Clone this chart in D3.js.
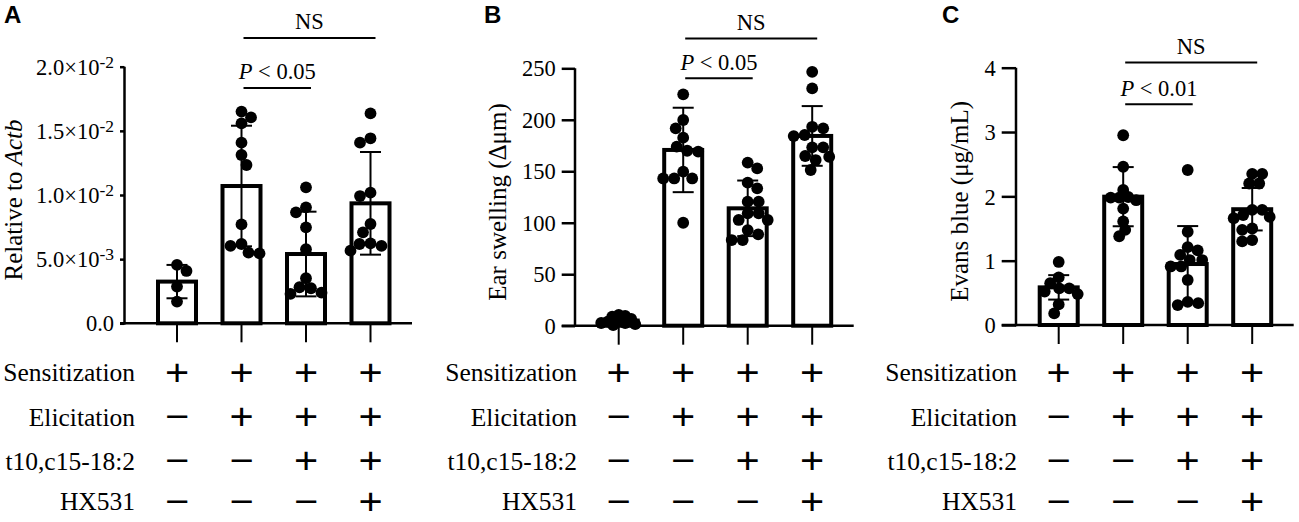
<!DOCTYPE html>
<html>
<head>
<meta charset="utf-8">
<script src="https://cdn.jsdelivr.net/npm/d3@7"></script>
<style>
  body { margin: 0; background: #fff; }
  svg { display: block; }
</style>
</head>
<body>
<script>
// values (mean, SD, individual animals)
const groups = ["g1", "g2", "g3", "g4"];
const rowLabels = ["Sensitization", "Elicitation", "t10,c15-18:2", "HX531"];
const rowSigns = [
  ["+", "+", "+", "+"],
  ["\u2212", "+", "+", "+"],
  ["\u2212", "\u2212", "+", "+"],
  ["\u2212", "\u2212", "\u2212", "+"]
];

// panel A - relative to Actb
const aMeans = [0.00325, 0.0107, 0.0054, 0.00935];
const aSD = [0.0013, 0.0047, 0.0033, 0.004];
const aPoints = [
  [0.00455, 0.00408, 0.00286, 0.00169],
  [0.0165, 0.01605, 0.01558, 0.01408, 0.01312, 0.01234, 0.00771, 0.00618, 0.00603, 0.00551, 0.00545],
  [0.0106, 0.00904, 0.00865, 0.00748, 0.00577, 0.00351, 0.00281, 0.00273, 0.00239, 0.00229],
  [0.01636, 0.01442, 0.01408, 0.01018, 0.00992, 0.00774, 0.00709, 0.00623, 0.00618, 0.00603, 0.00566]
];
const aTicks = [0, 0.005, 0.01, 0.015, 0.02];
const aTickLabels = [["0.0", ""], ["5.0\u00d710", "-3"], ["1.0\u00d710", "-2"], ["1.5\u00d710", "-2"], ["2.0\u00d710", "-2"]];

// panel B - ear swelling
const bMeans = [5, 170.7, 114, 184.3];
const bSD = [3.5, 41, 27, 29];
const bPoints = [
  [10.4, 9.4, 8.7, 6.5, 3.9, 3.9, 2.6, 2.6, 1.5, 0.5],
  [224.7, 199.8, 191.7, 182.6, 173.9, 169.9, 169, 149.6, 143, 143, 143, 100],
  [158.4, 152.8, 138.9, 133.4, 120.5, 120.5, 109.1, 109.1, 102.7, 102.7, 92.9, 88.7, 83.2, 83.2],
  [246.6, 230.5, 193.2, 191.7, 185.2, 184.2, 173.2, 173.2, 164.8, 164.1, 160.9, 151.2]
];
const bTicks = [0, 50, 100, 150, 200, 250];

// panel C - Evans blue
const cMeans = [0.585, 1.995, 0.948, 1.8];
const cSD = [0.19, 0.46, 0.59, 0.33];
const cPoints = [
  [0.98, 0.74, 0.65, 0.57, 0.57, 0.52, 0.48, 0.32, 0.18],
  [2.95, 2.46, 2.10, 1.99, 1.98, 1.98, 1.94, 1.81, 1.61, 1.48, 1.38],
  [2.41, 1.45, 1.21, 1.16, 1.09, 1.01, 1.01, 0.91, 0.91, 0.70, 0.36, 0.34, 0.31],
  [2.35, 2.35, 2.2, 2.2, 1.79, 1.79, 1.71, 1.68, 1.66, 1.5, 1.48, 1.32, 1.30]
];
const cTicks = [0, 1, 2, 3, 4];

// significance brackets: [from group, to group, height in data units, label]
const aBrackets = [[1, 2, 0.01834, "P"], [1, 3, 0.02224, "NS"]];
const bBrackets = [[1, 2, 240.3, "P"], [1, 3, 279, "NS"]];
const cBrackets = [[1, 2, 3.43, "P"], [1, 3, 4.08, "NS"]];
const pTexts = ["0.05", "0.05", "0.01"];

const serif = "'Liberation Serif', 'Times New Roman', serif";
const sans = "'Liberation Sans', Arial, sans-serif";

const svg = d3.select("body").append("svg")
  .attr("width", 1299)
  .attr("height", 522);

const panels = [
  { letter: "A", lx: 4, x0: 120, yAxisX: 124.5, top: 66.7, bottom: 323.3, max: 0.02,
    means: aMeans, sd: aSD, points: aPoints, ticks: aTicks, tickLabels: aTickLabels, fmt: null,
    brackets: aBrackets, ptext: pTexts[0], ylab: "Relative to ", ylabItalic: "Actb", ylx: 22, rowRight: 135,
    packing: [11, 11, 11, 11] },
  { letter: "B", lx: 484, x0: 561.7, yAxisX: 575, top: 68.3, bottom: 325.7, max: 250,
    means: bMeans, sd: bSD, points: bPoints, ticks: bTicks, tickLabels: null, fmt: d3.format("d"),
    brackets: bBrackets, ptext: pTexts[1], ylab: "Ear swelling (\u0394\u03bcm)", ylabItalic: "", ylx: 506, rowRight: 577,
    packing: [6.5, 11, 11, 11] },
  { letter: "C", lx: 942, x0: 1001.7, yAxisX: 1016, top: 67.7, bottom: 325, max: 4,
    means: cMeans, sd: cSD, points: cPoints, ticks: cTicks, tickLabels: null, fmt: d3.format("d"),
    brackets: cBrackets, ptext: pTexts[2], ylab: "Evans blue (\u03bcg/mL)", ylabItalic: "", ylx: 968, rowRight: 1017,
    packing: [10, 8.5, 10.5, 10] }
];

// compact beeswarm: nudge each dot sideways until it clears the others
function swarm(vals, y, cx, minDist) {
  const placed = [];
  vals.forEach((v, j) => {
    const py = y(v);
    const side = j % 2 ? 1 : -1;
    for (let k = 0; k <= 120; k++) {
      let hit = null;
      for (const s of [side, -side]) {
        const px = cx + s * k * 0.5;
        if (placed.every(p => Math.hypot(p.x - px, p.y - py) >= minDist)) { hit = px; break; }
      }
      if (hit !== null) { placed.push({ x: hit, y: py }); break; }
    }
  });
  return placed;
}

const rowCenters = [372, 416.5, 460.5, 501];

panels.forEach(p => {
  const g = svg.append("g");

  const x = d3.scalePoint().domain(groups).range([p.x0 + 57, p.x0 + 57 + 3 * 64.5]);
  const y = d3.scaleLinear().domain([0, p.max]).range([p.bottom, p.top]);
  const tickLen = p.yAxisX - p.x0;

  // panel letter
  g.append("text").attr("x", p.lx).attr("y", 23)
    .style("font-family", sans).style("font-weight", "bold").style("font-size", "24px")
    .text(p.letter);

  // y axis
  const ax = d3.axisLeft(y).tickValues(p.ticks).tickSizeOuter(0).tickSize(tickLen).tickPadding(6);
  if (p.fmt) ax.tickFormat(p.fmt);
  const yAxis = g.append("g")
    .attr("transform", `translate(${p.yAxisX},0)`)
    .call(ax);
  yAxis.select(".domain").attr("stroke-width", 2.5).attr("d", `M0,${p.bottom + 1.2}V${p.top}`);
  yAxis.selectAll(".tick line").attr("stroke-width", 2.5);
  yAxis.selectAll(".tick text")
    .style("font-family", serif).style("font-size", "22.5px").attr("fill", "#000")
    .attr("dy", "0.34em");
  if (p.tickLabels) {
    yAxis.selectAll(".tick text").each(function (d, i) {
      const t = d3.select(this).text("");
      t.append("tspan").text(p.tickLabels[i][0]);
      if (p.tickLabels[i][1]) {
        t.append("tspan").attr("dy", "-0.42em").style("font-size", "17.5px").text(p.tickLabels[i][1]);
      }
    });
  }

  // y label
  const yl = g.append("text")
    .attr("transform", `translate(${p.ylx},${(p.top + p.bottom) / 2 + 5}) rotate(-90)`)
    .attr("text-anchor", "middle")
    .style("font-family", serif).style("font-size", "25px");
  yl.append("tspan").text(p.ylab);
  if (p.ylabItalic) yl.append("tspan").style("font-style", "italic").text(p.ylabItalic);

  // x axis
  g.append("line")
    .attr("x1", p.x0).attr("x2", p.x0 + 292)
    .attr("y1", p.bottom).attr("y2", p.bottom)
    .attr("stroke", "#000").attr("stroke-width", 2.5);
  g.selectAll(".xtick").data(groups).join("line")
    .attr("x1", d => x(d)).attr("x2", d => x(d))
    .attr("y1", p.bottom).attr("y2", p.bottom + 19)
    .attr("stroke", "#000").attr("stroke-width", 2);

  // bars
  g.selectAll(".bar").data(p.means).join("rect")
    .attr("x", (d, i) => x(groups[i]) - 19)
    .attr("width", 38)
    .attr("y", d => y(d))
    .attr("height", d => y(0) - y(d))
    .attr("fill", "#fff").attr("stroke", "#000").attr("stroke-width", 4);

  // error bars (mean +/- SD)
  p.means.forEach((m, i) => {
    const cx = x(groups[i]);
    const lo = Math.max(0, m - p.sd[i]), hi = m + p.sd[i];
    g.append("line").attr("x1", cx).attr("x2", cx).attr("y1", y(lo)).attr("y2", y(hi))
      .attr("stroke", "#000").attr("stroke-width", 2);
    [lo, hi].forEach(v => {
      g.append("line").attr("x1", cx - 10.5).attr("x2", cx + 10.5).attr("y1", y(v)).attr("y2", y(v))
        .attr("stroke", "#000").attr("stroke-width", 2);
    });
  });

  // dots
  p.points.forEach((vals, i) => {
    const pos = swarm(vals, y, x(groups[i]), p.packing[i]);
    g.selectAll(null).data(pos).join("circle")
      .attr("cx", d => d.x).attr("cy", d => d.y).attr("r", 5.9)
      .attr("fill", "#000");
  });

  // significance brackets
  p.brackets.forEach(b => {
    const x1 = x(groups[b[0]]) + 2, x2 = x(groups[b[1]]) + 5;
    const by = y(b[2]);
    g.append("line").attr("x1", x1).attr("x2", x2).attr("y1", by).attr("y2", by)
      .attr("stroke", "#000").attr("stroke-width", 2);
    const t = g.append("text").attr("x", (x1 + x2) / 2).attr("y", by - 8.5)
      .attr("text-anchor", "middle")
      .style("font-family", serif).style("font-size", "22.5px");
    if (b[3] === "P") {
      t.append("tspan").style("font-style", "italic").text("P");
      t.append("tspan").text(" < " + p.ptext);
    } else {
      t.text(b[3]);
    }
  });

  // treatment table
  rowLabels.forEach((lab, r) => {
    g.append("text").attr("x", p.rowRight).attr("y", rowCenters[r] + 9)
      .attr("text-anchor", "end")
      .style("font-family", serif).style("font-size", "25.5px")
      .text(lab);
    g.selectAll(null).data(rowSigns[r]).join("text")
      .attr("transform", (d, i) => `translate(${x(groups[i])},${rowCenters[r] + 12.8}) scale(1.12,1)`)
      .attr("text-anchor", "middle")
      .style("font-family", sans).style("font-size", "37px")
      .text(d => d);
  });
});
</script>
</body>
</html>
